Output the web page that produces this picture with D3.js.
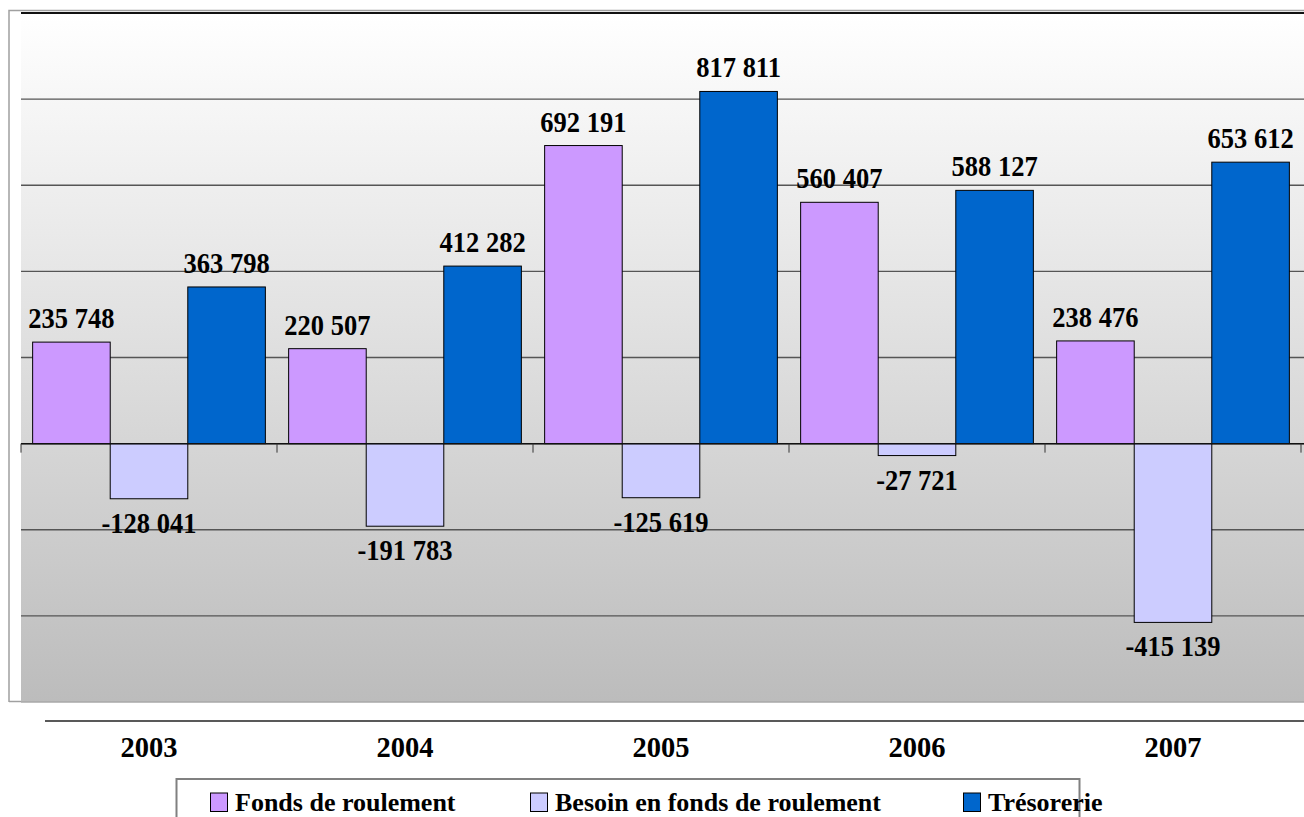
<!DOCTYPE html>
<html><head><meta charset="utf-8">
<script src="https://cdn.jsdelivr.net/npm/d3@7"></script>
<style>body{margin:0;background:#fff}svg{display:block}text{font-family:"Liberation Serif","Times New Roman",serif;font-weight:bold;fill:#000}</style>
</head><body>
<svg id="c" width="1304" height="817"></svg>
<script>
const years = ["2003","2004","2005","2006","2007"];
const seriesNames = ["Fonds de roulement","Besoin en fonds de roulement","Trésorerie"];
const fondsRoulement = [235748, 220507, 692191, 560407, 238476];
const besoinFR = [-128041, -191783, -125619, -27721, -415139];
const tresorerie = [363798, 412282, 817811, 588127, 653612];
const seriesColors = ["#cc99ff","#ccccff","#0066cc"];
const yTicks = [-600000,-400000,-200000,0,200000,400000,600000,800000,1000000];

const seriesValues = [fondsRoulement, besoinFR, tresorerie];
const svg = d3.select("#c");
const L = 21, R = 1301, T = 13, B = 702;

const x0 = d3.scaleBand().domain(years).range([L, R]).padding(0);
const x1 = d3.scaleBand().domain(seriesNames).range([0, x0.bandwidth()]).paddingInner(0).paddingOuter(0.15);
const y = d3.scaleLinear().domain([-600000, 1000000]).range([B, T]);

// outer frame
svg.append("path").attr("d", `M9,702 L9,10.5 L1304,10.5`).attr("fill","none").attr("stroke","#a0a0a0").attr("stroke-width",1.5);
svg.append("line").attr("x1",9).attr("x2",L).attr("y1",701.5).attr("y2",701.5).attr("stroke","#a0a0a0").attr("stroke-width",1.5);

// plot background gradient
const defs = svg.append("defs");
const g = defs.append("linearGradient").attr("id","bg").attr("x1",0).attr("y1",0).attr("x2",0).attr("y2",1);
g.append("stop").attr("offset","0%").attr("stop-color","#ffffff");
g.append("stop").attr("offset","62%").attr("stop-color","#d6d6d6");
g.append("stop").attr("offset","100%").attr("stop-color","#bcbcbc");
svg.append("rect").attr("x",L).attr("y",T).attr("width",1304-L).attr("height",B-T).attr("fill","url(#bg)");
svg.append("line").attr("x1",L).attr("x2",1304).attr("y1",B).attr("y2",B).attr("stroke","#a8a8a8").attr("stroke-width",1.5);

// gridlines
svg.append("g").selectAll("line").data(yTicks.filter(d => d !== -600000)).join("line")
  .attr("x1",L).attr("x2",1304)
  .attr("y1",d=>y(d)).attr("y2",d=>y(d))
  .attr("stroke",d=> d===1000000 ? "#111" : "#555").attr("stroke-width",d=> d===1000000 ? 1.8 : 1.3);

// bars
const groups = svg.append("g").selectAll("g").data(years).join("g")
  .attr("transform", d => `translate(${x0(d)},0)`);
groups.selectAll("rect").data((yr,i) => seriesNames.map((s,k)=>({s, k, v: seriesValues[k][i]}))).join("rect")
  .attr("x", d => x1(d.s))
  .attr("width", x1.bandwidth())
  .attr("y", d => y(Math.max(0,d.v)))
  .attr("height", d => Math.abs(y(d.v)-y(0)))
  .attr("fill", d => seriesColors[d.k])
  .attr("stroke","#000").attr("stroke-width",1);

// zero axis
svg.append("line").attr("x1",L).attr("x2",1304).attr("y1",y(0)).attr("y2",y(0)).attr("stroke","#111").attr("stroke-width",1.5);
svg.append("g").selectAll("line").data(d3.range(years.length+1)).join("line")
  .attr("x1",i=>L + i*x0.step()).attr("x2",i=>L + i*x0.step())
  .attr("y1",y(0)).attr("y2",y(0)+9).attr("stroke","#333").attr("stroke-width",1);

// value labels
const fmt = v => (v<0?"-":"") + d3.format(",")(Math.abs(v)).replace(/,/g," ");
groups.selectAll("text").data((yr,i) => seriesNames.map((s,k)=>({s, k, v: seriesValues[k][i]}))).join("text")
  .attr("transform", d => `translate(${x1(d.s)+x1.bandwidth()/2},${d.v>=0 ? y(d.v)-14 : y(d.v)+34}) scale(1,1.08)`)
  .attr("text-anchor","middle").attr("font-size",26.5)
  .text(d => fmt(d.v));

// category axis (separate)
svg.append("line").attr("x1",45).attr("x2",1304).attr("y1",721).attr("y2",721).attr("stroke","#222").attr("stroke-width",1.5);
svg.append("g").selectAll("text").data(years).join("text")
  .attr("x", d => x0(d)+x0.bandwidth()/2).attr("y",757)
  .attr("text-anchor","middle").attr("font-size",28.5)
  .text(d=>d);

// legend
svg.append("rect").attr("x",176.5).attr("y",779).attr("width",903).attr("height",60)
  .attr("fill","#fff").attr("stroke","#808080").attr("stroke-width",2);
const legendX = [210, 530, 963];
const lg = svg.append("g").selectAll("g").data(seriesNames).join("g")
  .attr("transform",(d,i)=>`translate(${legendX[i]},0)`);
lg.append("rect").attr("x",0.5).attr("y",793).attr("width",17).attr("height",18.5)
  .attr("fill",(d,i)=>seriesColors[i]).attr("stroke","#000").attr("stroke-width",1);
lg.append("text").attr("x",25).attr("y",811).attr("font-size",26).text(d=>d);
</script>
</body></html>
